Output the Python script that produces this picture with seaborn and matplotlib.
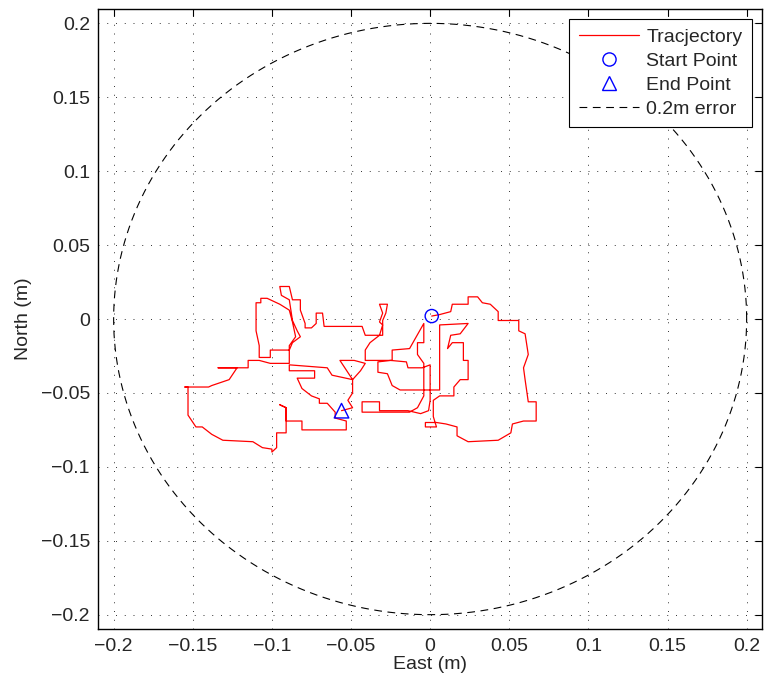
import numpy as np
import pandas as pd
import matplotlib

matplotlib.use("Agg")
import matplotlib.pyplot as plt
import seaborn as sns
from matplotlib.lines import Line2D

# trajectory (metres)
east = [
    0.001, 0.006, 0.013, 0.014, 0.024, 0.024, 0.030, 0.033, 0.038, 0.043,
    0.043, 0.056, 0.056, 0.060, 0.062, 0.059, 0.060, 0.062, 0.067, 0.067,
    0.059, 0.052, 0.051, 0.043, 0.024, 0.017, 0.017, 0.010, 0.004, -0.003,
    -0.003, 0.004, 0.002, 0.002, 0.006, 0.015, 0.015, 0.019, 0.024, 0.024,
    0.021, 0.021, 0.014, 0.011, 0.013, 0.019, 0.024, 0.006, 0.006, -0.019,
    -0.024, -0.027, -0.033, -0.033, -0.025, -0.015, -0.014, -0.005, 0.000, 0.000,
    -0.001, -0.006, -0.014, -0.032, -0.032, -0.043, -0.043, -0.013, -0.008, -0.004,
    -0.004, -0.008, -0.008, -0.004, -0.004, -0.013, -0.024, -0.024, -0.041, -0.041,
    -0.038, -0.032, -0.030, -0.032, -0.030, -0.032, -0.027, -0.028, -0.030, -0.030,
    -0.041, -0.043, -0.067, -0.068, -0.072, -0.072, -0.075, -0.079, -0.079, -0.082,
    -0.082, -0.087, -0.089, -0.095, -0.094, -0.089, -0.087, -0.084, -0.082, -0.087,
    -0.089, -0.101, -0.101, -0.108, -0.108, -0.110, -0.110, -0.107, -0.107, -0.103,
    -0.095, -0.089, -0.087, -0.085, -0.089, -0.089, -0.101, -0.108, -0.115, -0.115,
    -0.134, -0.122, -0.127, -0.138, -0.140, -0.155, -0.153, -0.153, -0.148, -0.144,
    -0.138, -0.131, -0.112, -0.106, -0.100, -0.100, -0.097, -0.097, -0.091, -0.091,
    -0.091, -0.095, -0.091, -0.091, -0.081, -0.081, -0.053, -0.053, -0.060, -0.060,
    -0.065, -0.070, -0.070, -0.075, -0.081, -0.084, -0.073, -0.073, -0.089, -0.089,
    -0.065, -0.062, -0.049, -0.044, -0.041, -0.048, -0.057, -0.049, -0.049, -0.052,
    -0.049, -0.056,
]
north = [
    0.002, 0.003, 0.005, 0.010, 0.010, 0.015, 0.015, 0.011, 0.010, 0.005,
    -0.001, -0.001, -0.008, -0.010, -0.024, -0.033, -0.041, -0.056, -0.056, -0.069,
    -0.069, -0.071, -0.077, -0.082, -0.083, -0.079, -0.073, -0.071, -0.070, -0.070,
    -0.073, -0.073, -0.066, -0.055, -0.052, -0.052, -0.046, -0.041, -0.041, -0.028,
    -0.028, -0.016, -0.016, -0.020, -0.011, -0.010, -0.003, -0.004, -0.048, -0.048,
    -0.045, -0.037, -0.036, -0.029, -0.028, -0.029, -0.033, -0.033, -0.031, -0.055,
    -0.062, -0.064, -0.062, -0.062, -0.056, -0.056, -0.063, -0.063, -0.060, -0.052,
    -0.030, -0.024, -0.016, -0.016, -0.003, -0.020, -0.021, -0.028, -0.028, -0.021,
    -0.016, -0.011, -0.004, -0.002, 0.004, 0.010, 0.010, 0.004, -0.001, -0.011,
    -0.011, -0.005, -0.005, 0.004, 0.004, -0.003, -0.006, -0.006, -0.003, 0.006,
    0.013, 0.013, 0.022, 0.022, 0.016, 0.013, -0.001, -0.008, -0.012, -0.016,
    -0.021, -0.021, -0.026, -0.026, -0.018, -0.008, 0.011, 0.011, 0.014, 0.014,
    0.010, 0.006, -0.002, -0.012, -0.018, -0.030, -0.030, -0.028, -0.028, -0.033,
    -0.033, -0.033, -0.041, -0.045, -0.046, -0.046, -0.046, -0.065, -0.073, -0.073,
    -0.078, -0.082, -0.083, -0.087, -0.088, -0.090, -0.087, -0.077, -0.077, -0.069,
    -0.060, -0.058, -0.060, -0.069, -0.069, -0.075, -0.075, -0.069, -0.067, -0.063,
    -0.057, -0.057, -0.054, -0.052, -0.047, -0.040, -0.040, -0.035, -0.035, -0.031,
    -0.033, -0.038, -0.041, -0.035, -0.030, -0.028, -0.028, -0.041, -0.050, -0.055,
    -0.060, -0.062,
]
error_radius = 0.2

tick_values = [-0.2, -0.15, -0.1, -0.05, 0, 0.05, 0.1, 0.15, 0.2]
tick_labels = ["\u22120.2", "\u22120.15", "\u22120.1", "\u22120.05", "0",
               "0.05", "0.1", "0.15", "0.2"]

sns.set_theme(style="white")
plt.rcParams["font.family"] = ["Liberation Sans", "DejaVu Sans"]
plt.rcParams["font.size"] = 14

fig = plt.figure(figsize=(7.69, 6.83), dpi=100)
ax = fig.add_axes([0.1278, 0.0786, 0.8631, 0.9082])

track = pd.DataFrame({"east": east, "north": north})
theta = np.linspace(0, 2 * np.pi, 721)
circle = pd.DataFrame({
    "east": error_radius * np.cos(theta),
    "north": error_radius * np.sin(theta),
})

sns.lineplot(data=circle, x="east", y="north", sort=False, estimator=None,
             color="black", linestyle=(0, (7, 5)), linewidth=0.8, ax=ax)
sns.lineplot(data=track, x="east", y="north", sort=False, estimator=None,
             color="red", linewidth=0.9, ax=ax)
sns.scatterplot(data=track.iloc[[0]], x="east", y="north", marker="o", s=90,
                facecolor="none", edgecolor="blue", linewidth=1, ax=ax, zorder=5)
sns.scatterplot(data=track.iloc[[-1]], x="east", y="north", marker="^", s=110,
                facecolor="none", edgecolor="blue", linewidth=1, ax=ax, zorder=5)

ax.set_xlim(-0.2097, 0.2097)
ax.set_ylim(-0.2099, 0.2097)
ax.set_xticks(tick_values)
ax.set_xticklabels(tick_labels)
ax.set_yticks(tick_values)
ax.set_yticklabels(tick_labels)
ax.set_xlabel("East (m)", fontsize=14, labelpad=1)
ax.set_ylabel("North (m)", fontsize=14, labelpad=6)

ax.grid(True, linestyle=(0, (1, 8)), color="0.2", linewidth=0.7)
ax.tick_params(direction="in", top=True, right=True, length=5, width=0.8,
               color="black", labelsize=14, pad=6)
for spine in ax.spines.values():
    spine.set_color("black")
    spine.set_linewidth(1.0)

handles = [
    Line2D([], [], color="red", linewidth=0.9),
    Line2D([], [], color="blue", marker="o", markersize=9.5, linestyle="none",
           markerfacecolor="none", markeredgewidth=1),
    Line2D([], [], color="blue", marker="^", markersize=10.5, linestyle="none",
           markerfacecolor="none", markeredgewidth=1),
    Line2D([], [], color="black", linewidth=0.8, linestyle=(0, (7, 5))),
]
labels = ["Tracjectory", "Start Point", "End Point", "0.2m error"]
leg = ax.legend(handles, labels, loc="upper right", fontsize=14, fancybox=False,
                framealpha=1, edgecolor="black", handlelength=3.1,
                handletextpad=0.36, labelspacing=0.32, borderpad=0.5,
                borderaxespad=0.5)
leg.get_frame().set_linewidth(0.8)

fig.savefig("out.png", dpi=100)
